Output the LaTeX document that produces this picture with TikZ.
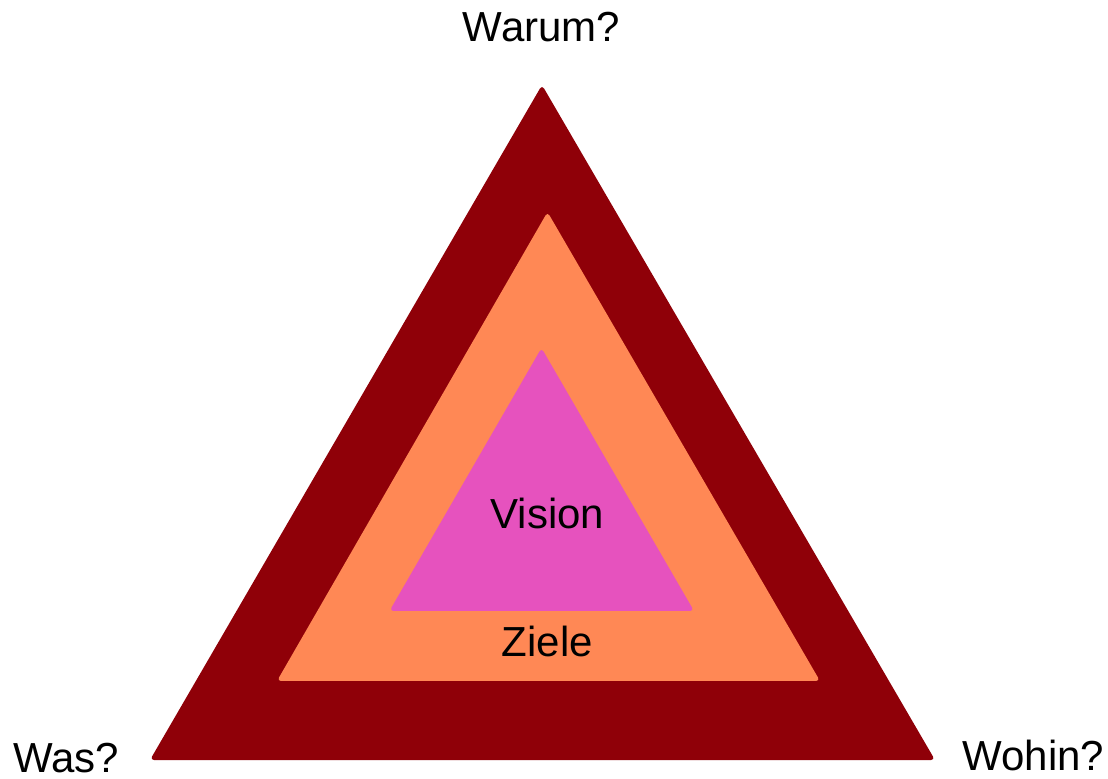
\documentclass[tikz,border=0pt]{standalone}
\usepackage{fontspec}
\setmainfont{Liberation Sans}
\definecolor{aussen}{RGB}{143,0,8}
\definecolor{mitte}{RGB}{255,136,85}
\definecolor{innen}{RGB}{230,82,190}
\tikzset{
  schicht/.style={rounded corners=2pt},
  frage/.style={anchor=base, inner sep=0pt, font=\fontsize{21}{25}\selectfont},
}
\begin{document}
\begin{tikzpicture}[x=0.5pt, y=-0.5pt]
	\useasboundingbox (0,0) rectangle (1108,779);
	% --- äußeres Dreieck ---
	\fill[aussen, schicht] (542,85) -- (935,760) -- (150,760) -- cycle;
	% --- mittleres Dreieck (Ziele) ---
	\fill[mitte, schicht] (547.5,212) -- (820,681) -- (277,681) -- cycle;
	% --- inneres Dreieck (Vision) ---
	\fill[innen, schicht] (541.5,348) -- (694,611) -- (389.5,611) -- cycle;
	% Beschriftungen
	\node[frage] (vision) at (547.5,529) {Vision};
	\node[frage] (ziele) at (547.5,657) {Ziele};
	% Fragen an den Ecken
	\node[frage] (warum) at (541.5,42) {Warum?};
	\node[frage] (was) at (66,772) {Was?};
	\node[frage] (wohin) at (1033.5,770) {Wohin?};
\end{tikzpicture}
\end{document}
